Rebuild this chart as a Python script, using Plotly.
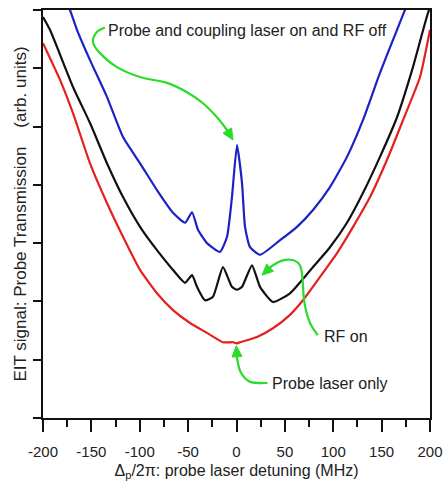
import math
import plotly.graph_objects as go

# ---- data ----
red_x = [-200, -182.4, -169, -151.4, -133.9, -117.3, -99.7, -82.2, -65.6, -48.1, -30.5, -14, -3.6, 0, 3.6,
         21.2, 37.7, 55.3, 68.7, 86.3, 103.9, 120.5, 138, 155.6, 172.1, 189.7, 200]
red_y = [6.43, 5.80, 5.23, 4.37, 3.69, 3.11, 2.54, 2.14, 1.85, 1.63, 1.46, 1.30, 1.30, 1.28, 1.30,
         1.39, 1.54, 1.77, 2.02, 2.42, 2.83, 3.28, 3.79, 4.43, 5.11, 5.85, 6.66]

black_x = [-200, -192.8, -169, -151.4, -133.9, -117.3, -99.7, -82.2, -65.6, -53.2, -46, -40.8, -32.6, -24.3,
           -14, -4.7, 0.5, 5.7, 16, 24.3, 37.7, 55.3, 79.1, 96.6, 114.2, 130.7, 148.3, 165.9, 182.4, 199, 203]
black_y = [6.88, 6.66, 5.68, 5.06, 4.37, 3.79, 3.28, 2.88, 2.54, 2.32, 2.45, 2.25, 2.02, 2.08,
           2.59, 2.25, 2.20, 2.25, 2.62, 2.25, 1.99, 2.14, 2.59, 2.93, 3.35, 3.86, 4.48, 5.16, 6.02, 7.00, 7.10]

blue_x = [-180, -172.1, -164.9, -151.4, -133.9, -117.3, -99.7, -82.2, -65.6, -53.2, -46, -39.8, -30.5, -17.1,
          -9.8, -4.7, 0.5, 5.7, 8.8, 14, 24.3, 45, 62.5, 79.1, 96.6, 114.2, 130.7, 148.3, 165.9, 174.1, 182]
blue_y = [7.30, 7.00, 6.66, 6.14, 5.51, 4.82, 4.37, 3.91, 3.52, 3.35, 3.53, 3.23, 3.00, 2.85,
          3.11, 3.79, 4.68, 4.03, 3.28, 2.93, 2.80, 3.05, 3.28, 3.57, 3.96, 4.48, 5.11, 5.92, 6.66, 7.00, 7.30]

x_ticks = [-200, -150, -100, -50, 0, 50, 100, 150, 200]

labels = ["Probe and coupling laser on and RF off", "RF on", "Probe laser only"]
label_pos = [(-135.4, 6.64), (88.4, 1.39), (34.6, 0.60)]

# arrow paths (annotation geometry, in axis units); last point is the arrow tip
arrow_paths = [
    [(-136.0, 6.70), (-144.5, 6.62), (-148.3, 6.45), (-141.1, 6.26), (-123.5, 6.02), (-99.7, 5.85),
     (-71.8, 5.75), (-51.2, 5.59), (-34.6, 5.40), (-20.2, 5.16), (-9.8, 4.94), (-3.6, 4.77)],
    [(84.0, 1.42), (75.5, 1.65), (70.0, 2.00), (68.2, 2.40), (65.5, 2.62), (58.0, 2.71), (47.0, 2.70),
     (36.0, 2.60), (26.4, 2.45)],
    [(32.0, 0.60), (14.0, 0.62), (4.5, 0.78), (0.8, 1.00), (-0.3, 1.24)],
]

GREEN = "#28dc28"
FONT = "Liberation Sans, Arial, sans-serif"
SX = 387 / 400.0   # px per MHz
SY = 408 / 7.0     # px per unit


def smooth_path(pts):
    d = "M{:.3f},{:.3f}".format(*pts[0])
    n = len(pts)
    for i in range(n - 1):
        p0 = pts[i - 1] if i > 0 else pts[i]
        p1 = pts[i]
        p2 = pts[i + 1]
        p3 = pts[i + 2] if i + 2 < n else pts[i + 1]
        c1 = (p1[0] + (p2[0] - p0[0]) / 6, p1[1] + (p2[1] - p0[1]) / 6)
        c2 = (p2[0] - (p3[0] - p1[0]) / 6, p2[1] - (p3[1] - p1[1]) / 6)
        d += " C{:.3f},{:.3f} {:.3f},{:.3f} {:.3f},{:.3f}".format(c1[0], c1[1], c2[0], c2[1], p2[0], p2[1])
    return d


def arrow_head(prev, tip, length=11.0, width=10.0):
    dx = (tip[0] - prev[0]) * SX
    dy = (tip[1] - prev[1]) * SY
    n = math.hypot(dx, dy)
    ux, uy = dx / n, dy / n
    px, py = -uy, ux
    bx, by = -ux * length, -uy * length
    pts = [(0, 0), (bx + px * width / 2, by + py * width / 2), (bx - px * width / 2, by - py * width / 2)]
    pts = [(tip[0] + a / SX, tip[1] + b / SY) for a, b in pts]
    base = (tip[0] + bx * 0.7 / SX, tip[1] + by * 0.7 / SY)
    d = "M{:.3f},{:.3f} L{:.3f},{:.3f} L{:.3f},{:.3f} Z".format(*pts[0], *pts[1], *pts[2])
    return d, base


fig = go.Figure()
for xs, ys, col in [(red_x, red_y, "#e3211f"), (black_x, black_y, "#111111"), (blue_x, blue_y, "#1c22c4")]:
    fig.add_trace(go.Scatter(x=xs, y=ys, mode="lines",
                             line=dict(color=col, width=2.2, shape="spline", smoothing=0.5),
                             hoverinfo="skip", showlegend=False))

shapes = []
annotations = []
for path, txt, (tx, ty) in zip(arrow_paths, labels, label_pos):
    head, base = arrow_head(path[-2], path[-1])
    shapes.append(dict(type="path", xref="x", yref="y", path=smooth_path(path[:-1] + [base]),
                       line=dict(color=GREEN, width=2.2)))
    shapes.append(dict(type="path", xref="x", yref="y", path=head,
                       line=dict(color=GREEN, width=1), fillcolor=GREEN))
    annotations.append(dict(x=tx, y=ty, xref="x", yref="y", text=txt, showarrow=False,
                            xanchor="left", yanchor="middle",
                            font=dict(family=FONT, size=16, color="#222222")))

fig.update_layout(
    width=446, height=484,
    margin=dict(l=43, r=16, t=10, b=66),
    paper_bgcolor="white", plot_bgcolor="white",
    shapes=shapes, annotations=annotations,
    font=dict(family=FONT, color="#222222"),
)
fig.update_xaxes(
    range=[-200, 200], tickvals=x_ticks, ticktext=[str(v) for v in x_ticks],
    ticks="outside", ticklen=12, tickwidth=1.5, tickcolor="#111",
    minor=dict(dtick=25, tick0=-200, ticks="outside", ticklen=7, tickwidth=1.5, tickcolor="#111"),
    showline=True, linecolor="#111", linewidth=1.5, mirror=True,
    showgrid=False, zeroline=False, automargin=False,
    ticklabelstandoff=7,
    tickfont=dict(size=15, family=FONT, color="#222"),
    title=dict(text="Δ<sub>p</sub>/2π: probe laser detuning (MHz)", font=dict(size=16, family=FONT, color="#222"), standoff=6),
)
fig.update_yaxes(
    range=[0, 7], dtick=1, tick0=0,
    ticks="outside", ticklen=8, tickwidth=1.5, tickcolor="#111",
    showticklabels=False,
    showline=True, linecolor="#111", linewidth=1.5, mirror=True,
    showgrid=False, zeroline=False, automargin=False,
    title=dict(text="EIT signal: Probe Transmission\u00a0\u00a0\u00a0\u00a0(arb. units)",
               font=dict(size=17, family=FONT, color="#222"), standoff=2),
)

fig.write_html("out.html")
